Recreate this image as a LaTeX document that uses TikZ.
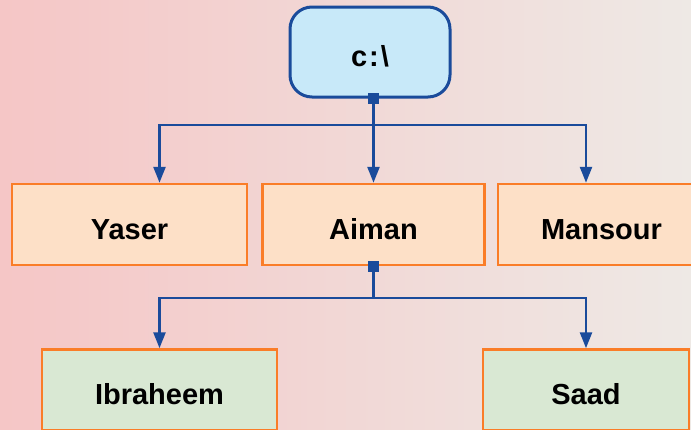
\documentclass[tikz,border=0pt]{standalone}
\usepackage{fontspec}
\setmainfont{Liberation Sans}
\usetikzlibrary{arrows.meta}
\definecolor{bgpink}{RGB}{245,198,198}
\definecolor{bgmid}{RGB}{248,230,230}
\definecolor{bgright}{RGB}{238,233,229}
\definecolor{linkblue}{RGB}{26,75,155}
\definecolor{rootfill}{RGB}{200,233,249}
\definecolor{boxorange}{RGB}{250,125,40}
\definecolor{peachfill}{RGB}{253,224,199}
\definecolor{greenfill}{RGB}{217,232,211}
\tikzset{
  folder/.style={draw=boxorange, line width=2.5pt, fill=#1, minimum height=81pt,
    inner sep=0pt, text height=29pt, text depth=0pt,
    font=\fontsize{29}{34}\selectfont\bfseries},
  drive/.style={draw=linkblue, line width=3pt, fill=rootfill, rounded corners=22pt,
    minimum width=160pt, minimum height=90pt, inner sep=0pt,
    text height=29pt, text depth=0pt,
    font=\fontsize{29}{34}\selectfont\bfseries},
  joint/.style={fill=linkblue, minimum size=10.5pt, inner sep=0pt},
  link/.style={draw=linkblue, line width=2.5pt},
  linkto/.style={link, -{Triangle[width=12pt,length=16pt]}}
}
\begin{document}
\begin{tikzpicture}[x=1pt,y=-1pt]
        \useasboundingbox (0,0) rectangle (691,429);
        \clip (0,0) rectangle (691,429);
        \shade[left color=bgpink, middle color=bgmid, right color=bgright] (0,0) rectangle (691,429);
        % folders
        \node[drive] (root) at (370,52) {c\kern2pt:\kern2pt\textbackslash};
        \node[folder=peachfill, minimum width=235pt] (yaser) at (129.5,224.5) {Yaser};
        \node[folder=peachfill, minimum width=222pt] (aiman) at (373.5,224.5) {Aiman};
        \node[folder=peachfill, minimum width=207pt] (mansour) at (601.5,224.5) {Mansour};
        \node[folder=greenfill, minimum width=235pt] (ibraheem) at (159.5,390) {Ibraheem};
        \node[folder=greenfill, minimum width=206pt] (saad) at (586,390) {Saad};
        % branches
        \coordinate (j1) at (373.5,125);
        \coordinate (j2) at (373.5,298);
        \draw[link] (root.south -| aiman.north) -- (j1);
        \draw[linkto] (j1) -| (yaser.north -| ibraheem.north);
        \draw[linkto] (j1) -- (aiman.north);
        \draw[linkto] (j1) -| (mansour.north -| saad.north);
        \draw[link] (aiman.south) -- (j2);
        \draw[linkto] (j2) -| (ibraheem.north);
        \draw[linkto] (j2) -| (saad.north);
        \node[joint] (rootjoint) at (root.south -| aiman.north) {};
        \node[joint] (aimanjoint) at (aiman.south) {};
    \end{tikzpicture}
\end{document}
